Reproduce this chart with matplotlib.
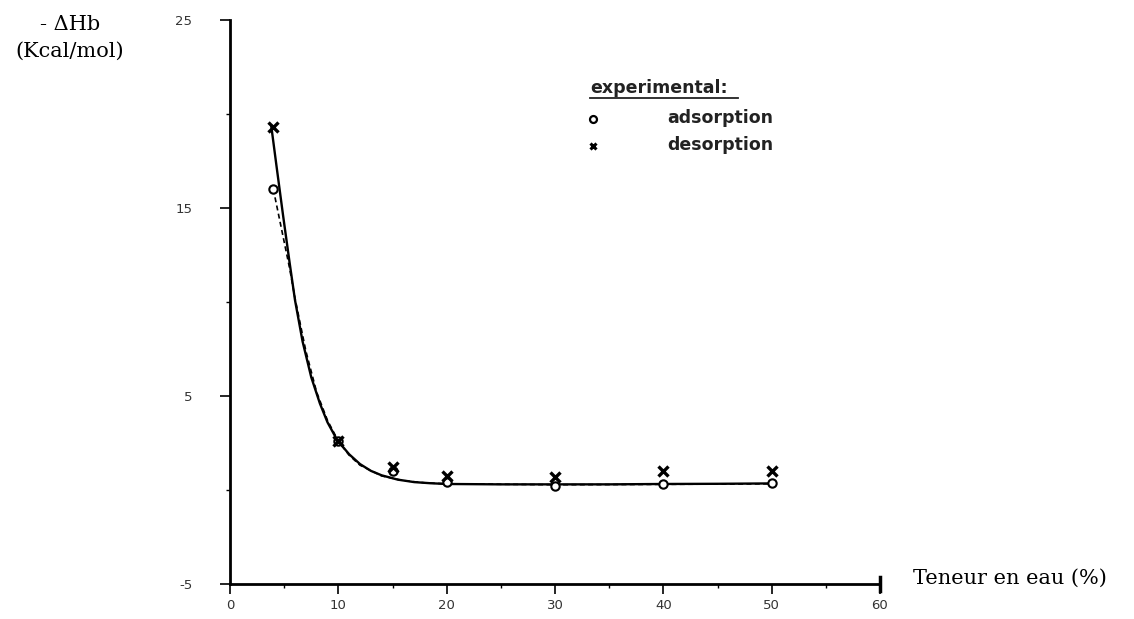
import matplotlib
matplotlib.use("Agg")
import matplotlib.pyplot as plt
from matplotlib.ticker import MultipleLocator

plt.rcParams["axes.unicode_minus"] = False

# experimental points
x_points = [4, 10, 15, 20, 30, 40, 50]
adsorption = [16.0, 2.6, 1.0, 0.4, 0.2, 0.3, 0.35]
desorption = [19.3, 2.6, 1.2, 0.75, 0.7, 1.0, 1.0]

# fitted curves
solid_x = [3.8, 4.3, 4.9, 5.5, 6.0, 6.7, 7.5, 8.3, 9.0, 9.9, 11.0, 12.0, 13.0,
           14.0, 15.5, 17.0, 18.5, 20, 25, 30, 35, 40, 45, 50]
solid_y = [19.4, 17.2, 14.6, 12.1, 10.1, 7.9, 6.0, 4.6, 3.6, 2.65, 1.9, 1.38, 1.02,
           0.78, 0.55, 0.42, 0.36, 0.32, 0.3, 0.3, 0.3, 0.32, 0.33, 0.35]
dashed_x = [4.0, 4.5, 5, 5.5, 6, 7, 8, 9, 10, 11, 12, 14, 16, 18, 20, 30, 40, 50]
dashed_y = [16.0, 14.6, 13.2, 11.8, 10.2, 7.4, 5.2, 3.7, 2.6, 1.85, 1.32, 0.75,
            0.5, 0.38, 0.33, 0.28, 0.3, 0.33]

x_ticks = [0, 10, 20, 30, 40, 50, 60]
y_ticks = [-5, 5, 15, 25]

fig = plt.figure(figsize=(11.34, 6.19), dpi=100)
ax = fig.add_axes([230 / 1134, 35 / 619, 650 / 1134, 564 / 619])

ax.plot(solid_x, solid_y, color="black", lw=1.7)
ax.plot(dashed_x, dashed_y, color="black", lw=1.2, ls=(0, (3, 2)))
ax.plot(x_points, adsorption, ls="none", marker="o", ms=6, mfc="white",
        mec="black", mew=1.5)
ax.plot(x_points, desorption, ls="none", marker="x", ms=6.5, color="black",
        mew=2.4)

ax.set_xlim(0, 60)
ax.set_ylim(-5, 25)
ax.set_xticks(x_ticks)
ax.set_yticks(y_ticks)
ax.xaxis.set_minor_locator(MultipleLocator(5))
ax.yaxis.set_minor_locator(MultipleLocator(5))
ax.tick_params(axis="both", which="major", length=7, width=1.2,
               labelsize=9.5, labelcolor="#333333", direction="out")
ax.tick_params(axis="both", which="minor", length=3, width=1.0,
               direction="out")
ax.tick_params(axis="x", pad=4)
ax.tick_params(axis="y", pad=20)
for s in ["top", "right"]:
    ax.spines[s].set_visible(False)
for s in ["left", "bottom"]:
    ax.spines[s].set_linewidth(2.0)
# end bar of the x axis
ax.plot([60, 60], [-5.35, -4.65], color="black", lw=2.5, clip_on=False)

serif = ["DejaVu Serif"]
fig.text(70 / 1134, 1 - 24 / 619, "- ΔHb", ha="center", va="center",
         fontsize=15, family=serif)
fig.text(70 / 1134, 1 - 51 / 619, "(Kcal/mol)", ha="center", va="center",
         fontsize=15, family=serif)
fig.text(913 / 1134, 1 - 578 / 619, "Teneur en eau (%)", ha="left",
         va="center", fontsize=15, family=serif)

# legend block
lf = dict(fontsize=12.5, fontweight="bold", color="#222222", family="DejaVu Sans")
fig.text(590 / 1134, 1 - 88 / 619, "experimental:", ha="left", va="center", **lf)
fig.add_artist(plt.Line2D([590 / 1134, 738 / 1134], [1 - 98 / 619, 1 - 98 / 619],
                          color="#222222", lw=1.3))
fig.text(667 / 1134, 1 - 118 / 619, "adsorption", ha="left", va="center", **lf)
fig.text(667 / 1134, 1 - 145 / 619, "desorption", ha="left", va="center", **lf)
fig.add_artist(plt.Line2D([593 / 1134], [1 - 119 / 619], marker="o", ms=5,
                          mfc="white", mec="black", mew=1.6, ls="none"))
fig.add_artist(plt.Line2D([593 / 1134], [1 - 146 / 619], marker="x", ms=5,
                          color="black", mew=2.2, ls="none"))

fig.savefig("out.png", dpi=100)
